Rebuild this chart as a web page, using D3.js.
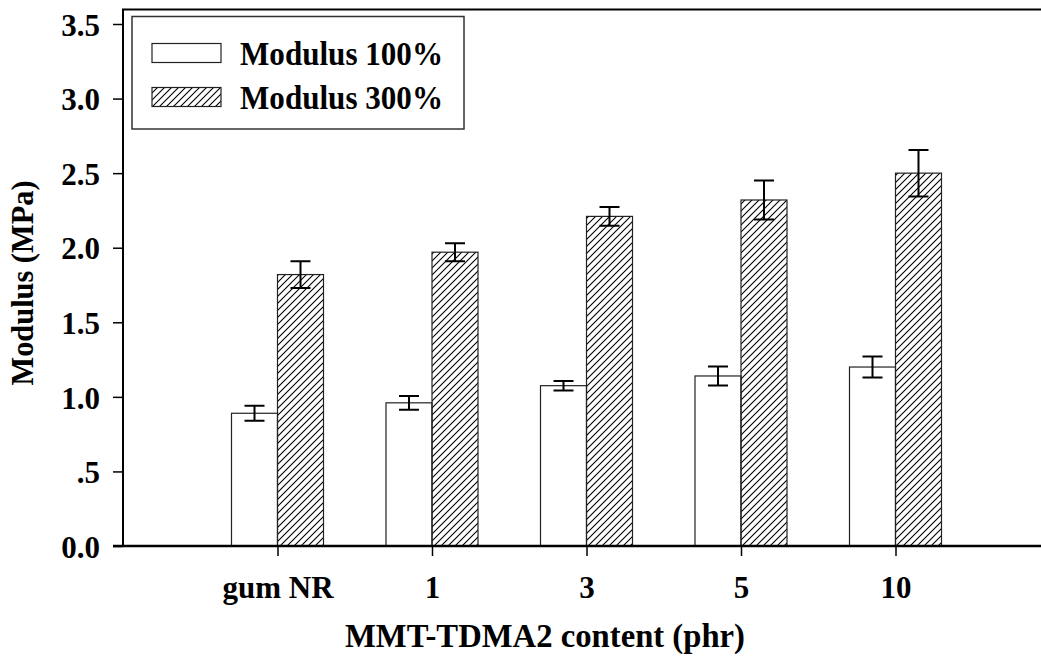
<!DOCTYPE html>
<html>
<head>
<meta charset="utf-8">
<script src="https://cdn.jsdelivr.net/npm/d3@7"></script>
<style>
  body { margin: 0; background: #fff; }
  svg { display: block; font-family: "Liberation Serif", "Times New Roman", serif; font-weight: bold; }
</style>
</head>
<body>
<div class="chart"></div>
<script>
// data
const categories = ["gum NR", "1", "3", "5", "10"];
const series = ["Modulus 100%", "Modulus 300%"];
const mod100 = [0.89, 0.96, 1.075, 1.14, 1.20];
const err100 = [0.05, 0.046, 0.032, 0.064, 0.07];
const mod300 = [1.82, 1.97, 2.21, 2.32, 2.50];
const err300 = [0.09, 0.06, 0.063, 0.13, 0.156];
const yTicks = [0, 0.5, 1, 1.5, 2, 2.5, 3, 3.5];
const yTickLabels = ["0.0", ".5", "1.0", "1.5", "2.0", "2.5", "3.0", "3.5"];

const W = 1041, H = 658;
const plotLeft = 123, plotTop = 9.5, plotBottom = 546;

const svg = d3.select(".chart").append("svg")
  .attr("width", W)
  .attr("height", H);

// diagonal hatch
svg.append("defs").append("pattern")
  .attr("id", "hatch")
  .attr("patternUnits", "userSpaceOnUse")
  .attr("width", 7).attr("height", 7)
  .append("path")
  .attr("d", "M-1,1 l2,-2 M0,7 l7,-7 M6,8 l2,-2")
  .attr("stroke", "#000")
  .attr("stroke-width", 1.1);

const x = d3.scalePoint().domain(categories).range([plotLeft, 1050]).padding(1);
const y = d3.scaleLinear().domain([0, 3.5]).range([plotBottom, 24]);
const barW = 46;

const rows = categories.map((c, i) => ({
  c, v1: mod100[i], e1: err100[i], v3: mod300[i], e3: err300[i]
}));

// bars
const g = svg.append("g").attr("stroke", "#222").attr("stroke-width", 1.2);
g.selectAll(".b1").data(rows).join("rect")
  .attr("x", d => x(d.c) - barW).attr("width", barW)
  .attr("y", d => y(d.v1)).attr("height", d => y(0) - y(d.v1))
  .attr("fill", "#fff");
g.selectAll(".b3").data(rows).join("rect")
  .attr("x", d => x(d.c)).attr("width", barW)
  .attr("y", d => y(d.v3)).attr("height", d => y(0) - y(d.v3))
  .attr("fill", "url(#hatch)");

// error bars
function errBars(xo, v, e) {
  const eg = svg.append("g").attr("stroke", "#000").attr("stroke-width", 2).attr("fill", "none");
  eg.selectAll("path").data(rows).join("path")
    .attr("d", d => {
      const cx = x(d.c) + xo, y0 = y(v(d) - e(d)), y1 = y(v(d) + e(d));
      return `M${cx - 10},${y1}H${cx + 10}M${cx},${y1}V${y0}M${cx - 10},${y0}H${cx + 10}`;
    });
}
errBars(-barW / 2, d => d.v1, d => d.e1);
errBars(barW / 2, d => d.v3, d => d.e3);

// frame: top line and axes
svg.append("path")
  .attr("d", `M${plotLeft},${plotBottom}V${plotTop}H${W}`)
  .attr("stroke", "#000").attr("stroke-width", 2).attr("fill", "none");

const yAxis = svg.append("g")
  .attr("transform", `translate(${plotLeft},0)`)
  .call(d3.axisLeft(y).tickValues(yTicks).tickFormat((d, i) => yTickLabels[i]).tickSize(10).tickPadding(13))
  .attr("font-family", null).attr("font-size", 31);
yAxis.select(".domain").remove();
yAxis.selectAll("line").attr("stroke", "#000").attr("stroke-width", 1.5);
yAxis.selectAll("text").attr("fill", "#000").attr("dy", "0.36em");

const xAxis = svg.append("g")
  .attr("transform", `translate(0,${plotBottom})`)
  .call(d3.axisBottom(x).tickSize(10).tickPadding(20))
  .attr("font-family", null).attr("font-size", 31);
xAxis.select(".domain").remove();
xAxis.selectAll("line").attr("stroke", "#000").attr("stroke-width", 1.5);
xAxis.selectAll("text").attr("fill", "#000");

svg.append("line")
  .attr("x1", 113).attr("x2", W).attr("y1", plotBottom).attr("y2", plotBottom)
  .attr("stroke", "#000").attr("stroke-width", 2.5);

// axis titles
svg.append("text")
  .attr("x", 545).attr("y", 647)
  .attr("text-anchor", "middle").attr("font-size", 34)
  .attr("textLength", 400).attr("lengthAdjust", "spacingAndGlyphs")
  .text("MMT-TDMA2 content (phr)");
svg.append("text")
  .attr("transform", "translate(33,283) rotate(-90)")
  .attr("text-anchor", "middle").attr("font-size", 31)
  .attr("textLength", 205).attr("lengthAdjust", "spacingAndGlyphs")
  .text("Modulus (MPa)");

// legend
const lg = svg.append("g");
lg.append("rect")
  .attr("x", 132).attr("y", 16.5).attr("width", 332).attr("height", 112.5)
  .attr("fill", "#fff").attr("stroke", "#333").attr("stroke-width", 1.5);
lg.selectAll(".sw").data(series).join("rect")
  .attr("x", 152).attr("y", (d, i) => 43.5 + i * 44)
  .attr("width", 69).attr("height", 19)
  .attr("fill", (d, i) => i ? "url(#hatch)" : "#fff")
  .attr("stroke", "#222").attr("stroke-width", 1.2);
lg.selectAll(".lt").data(series).join("text")
  .attr("x", 240).attr("y", (d, i) => 65 + i * 44)
  .attr("font-size", 34)
  .attr("textLength", 203).attr("lengthAdjust", "spacingAndGlyphs")
  .text(d => d);
</script>
</body>
</html>
